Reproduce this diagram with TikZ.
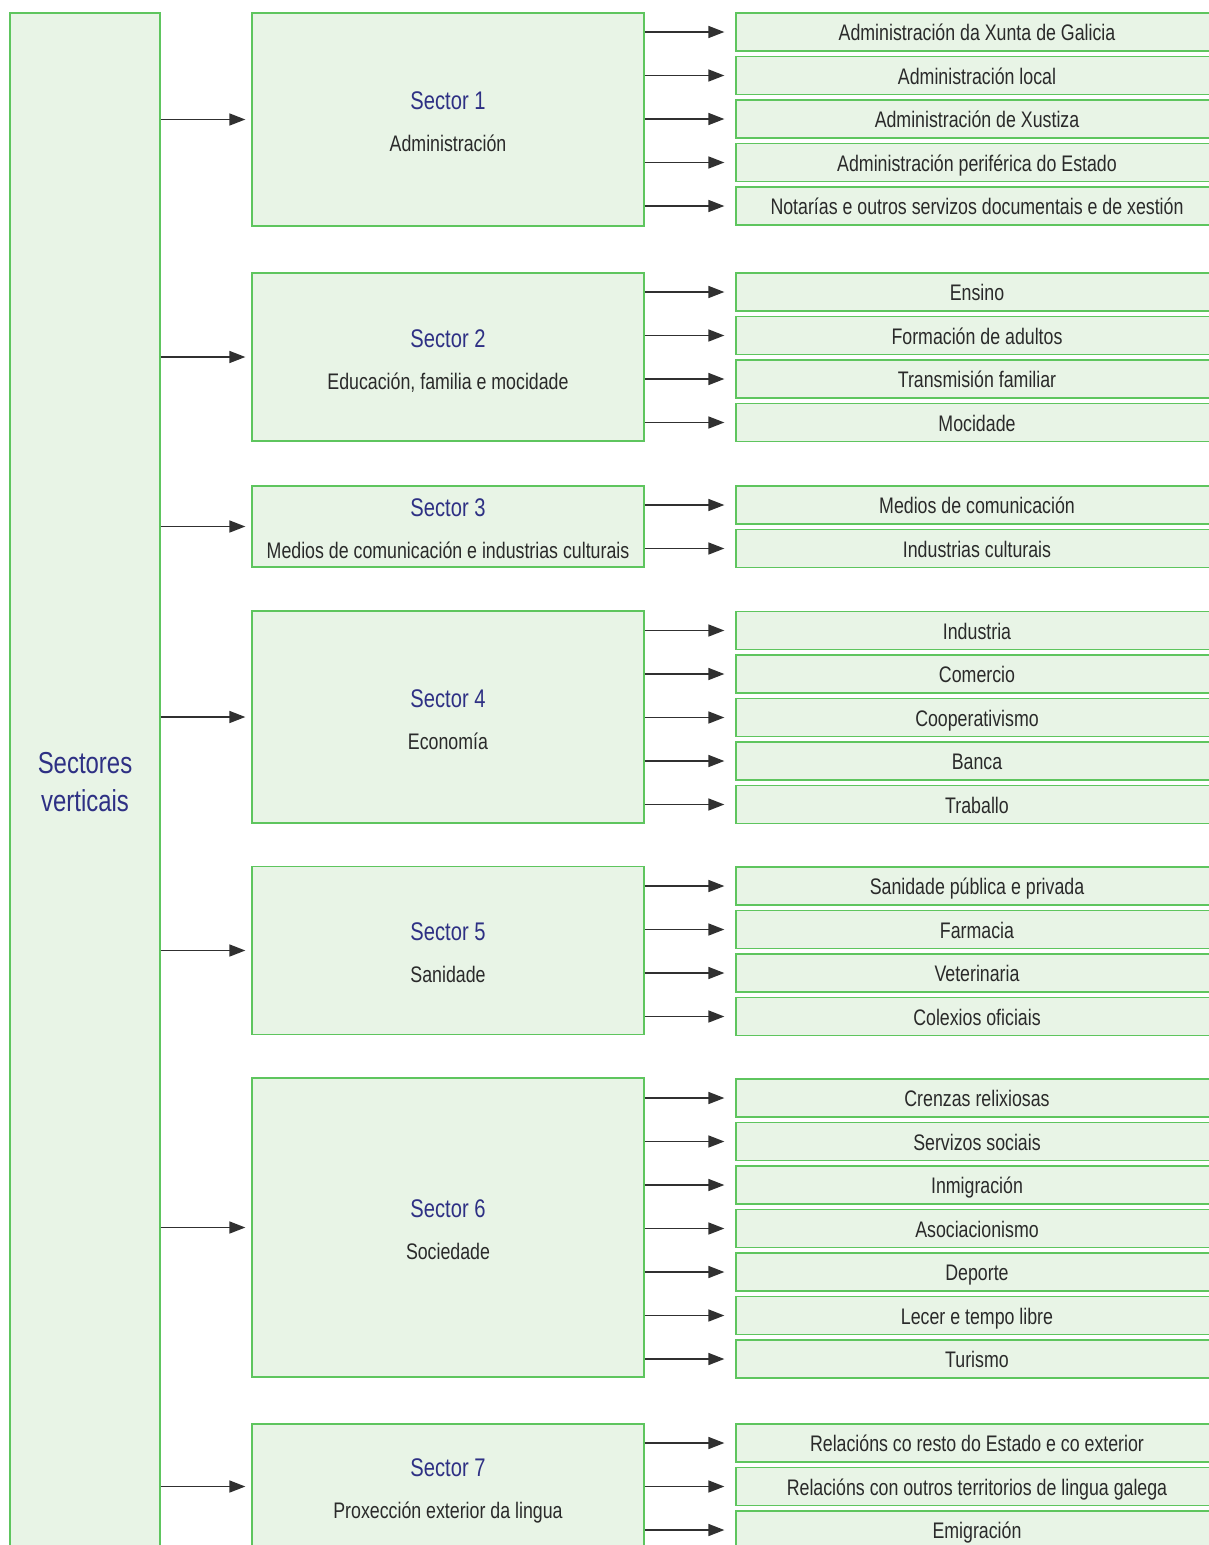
\documentclass[tikz,border=0pt]{standalone}
\usepackage{fontspec}
\setmainfont{Liberation Sans}[FakeStretch=0.79]
\usetikzlibrary{arrows.meta}
\definecolor{boxfill}{HTML}{E8F4E6}
\definecolor{boxline}{HTML}{5EC55E}
\definecolor{titleblue}{HTML}{2E3084}
\definecolor{txt}{HTML}{2A2A2A}
\definecolor{arr}{HTML}{303030}
\begin{document}
\begin{tikzpicture}[x=1pt,y=-1pt,
  gbox/.style={draw=boxline, fill=boxfill, line width=1.3pt, inner sep=0pt, rectangle},
  itembox/.style={gbox, minimum width=482pt, minimum height=38pt, text height=21pt, text depth=4pt,
    font=\fontsize{22.5}{25}\selectfont, text=txt},
  sectbox/.style={gbox, minimum width=392pt},
  ttl/.style={font=\fontsize{25.5}{30}\selectfont, text=titleblue, inner sep=0pt, anchor=base},
  subt/.style={font=\fontsize{22.5}{25}\selectfont, text=txt, inner sep=0pt, anchor=base},
  conn/.style={draw=arr, line width=1.6pt, -{Triangle[length=16pt,width=12pt]}}
]
\useasboundingbox (0,0) rectangle (1209,1545);
\clip (0,0) rectangle (1209,1545);
\fill[white] (0,0) rectangle (1209,1545);

% root
\node[gbox, minimum width=150pt, minimum height=1547pt] (root) at (85,786.5) {};
\node[font=\fontsize{30.3}{37.5}\selectfont, text=titleblue, align=center, inner sep=0pt] (rootlbl) at (85,782) {Sectores\\verticais};

% sectors
\node[sectbox, minimum height=213pt] (s1) at (448,119.5) {};
\node[ttl] (t1) at ([yshift=10pt]s1.center) {Sector 1};
\node[subt] (u1) at ([yshift=-32pt]s1.center) {Administración};

\node[sectbox, minimum height=168pt] (s2) at (448,357) {};
\node[ttl] (t2) at ([yshift=10pt]s2.center) {Sector 2};
\node[subt] (u2) at ([yshift=-32pt]s2.center) {Educación, familia e mocidade};

\node[sectbox, minimum height=81pt] (s3) at (448,526.5) {};
\node[ttl] (t3) at ([yshift=10pt]s3.center) {Sector 3};
\node[subt] (u3) at ([yshift=-32pt]s3.center) {Medios de comunicación e industrias culturais};

\node[sectbox, minimum height=212pt] (s4) at (448,717) {};
\node[ttl] (t4) at ([yshift=10pt]s4.center) {Sector 4};
\node[subt] (u4) at ([yshift=-32pt]s4.center) {Economía};

\node[sectbox, minimum height=168pt] (s5) at (448,950.5) {};
\node[ttl] (t5) at ([yshift=10pt]s5.center) {Sector 5};
\node[subt] (u5) at ([yshift=-32pt]s5.center) {Sanidade};

\node[sectbox, minimum height=299pt] (s6) at (448,1227.5) {};
\node[ttl] (t6) at ([yshift=10pt]s6.center) {Sector 6};
\node[subt] (u6) at ([yshift=-32pt]s6.center) {Sociedade};

\node[sectbox, minimum height=125pt] (s7) at (448,1486.5) {};
\node[ttl] (t7) at ([yshift=10pt]s7.center) {Sector 7};
\node[subt] (u7) at ([yshift=-32pt]s7.center) {Proxección exterior da lingua};

\foreach \s in {1,...,7}{
  \draw[conn, shorten >=6pt] (root.east |- s\s.west) -- (s\s.west);
}

% items
\foreach \t [count=\k] in {Administración da Xunta de Galicia, Administración local, Administración de Xustiza, Administración periférica do Estado, Notarías e outros servizos documentais e de xestión}{
  \node[itembox] (i1-\k) at (977,{32+43.5*(\k-1)}) {\t};
  \draw[conn, shorten >=11pt] (s1.east |- i1-\k.west) -- (i1-\k.west);
}
\foreach \t [count=\k] in {Ensino, Formación de adultos, Transmisión familiar, Mocidade}{
  \node[itembox] (i2-\k) at (977,{292+43.5*(\k-1)}) {\t};
  \draw[conn, shorten >=11pt] (s2.east |- i2-\k.west) -- (i2-\k.west);
}
\foreach \t [count=\k] in {Medios de comunicación, Industrias culturais}{
  \node[itembox] (i3-\k) at (977,{505+43.5*(\k-1)}) {\t};
  \draw[conn, shorten >=11pt] (s3.east |- i3-\k.west) -- (i3-\k.west);
}
\foreach \t [count=\k] in {Industria, Comercio, Cooperativismo, Banca, Traballo}{
  \node[itembox] (i4-\k) at (977,{630.5+43.5*(\k-1)}) {\t};
  \draw[conn, shorten >=11pt] (s4.east |- i4-\k.west) -- (i4-\k.west);
}
\foreach \t [count=\k] in {Sanidade pública e privada, Farmacia, Veterinaria, Colexios oficiais}{
  \node[itembox] (i5-\k) at (977,{886+43.5*(\k-1)}) {\t};
  \draw[conn, shorten >=11pt] (s5.east |- i5-\k.west) -- (i5-\k.west);
}
\foreach \t [count=\k] in {Crenzas relixiosas, Servizos sociais, Inmigración, Asociacionismo, Deporte, Lecer e tempo libre, Turismo}{
  \node[itembox] (i6-\k) at (977,{1098+43.5*(\k-1)}) {\t};
  \draw[conn, shorten >=11pt] (s6.east |- i6-\k.west) -- (i6-\k.west);
}
\foreach \t [count=\k] in {Relacións co resto do Estado e co exterior, Relacións con outros territorios de lingua galega, Emigración}{
  \node[itembox] (i7-\k) at (977,{1443+43.5*(\k-1)}) {\t};
  \draw[conn, shorten >=11pt] (s7.east |- i7-\k.west) -- (i7-\k.west);
}
\end{tikzpicture}
\end{document}
